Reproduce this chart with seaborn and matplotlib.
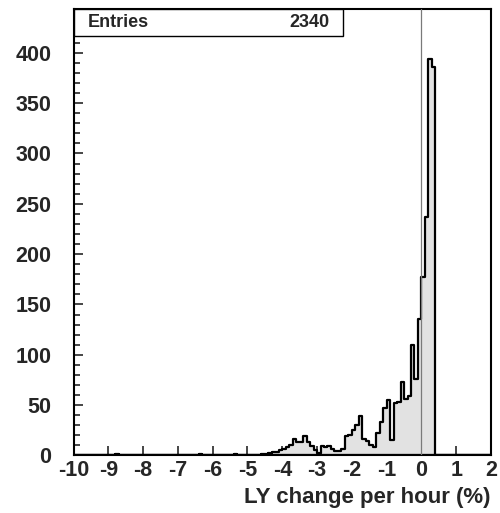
import numpy as np
import pandas as pd
import matplotlib
matplotlib.use("Agg")
import matplotlib.pyplot as plt
from matplotlib.patches import Rectangle
from matplotlib.ticker import MultipleLocator
import seaborn as sns

# Histogram binning: 120 bins of 0.1 % from -10 to 2
bin_lo, bin_hi, bin_w = -10.0, 2.0, 0.1

# Left edges of the populated bins and their counts
bin_left = [-8.8, -6.4, -5.4, -4.6, -4.5, -4.4, -4.3, -4.2,
            -4.1, -4.0, -3.9, -3.8, -3.7, -3.6, -3.5, -3.4, -3.3, -3.2, -3.1,
            -3.0, -2.9, -2.8, -2.7, -2.6, -2.5, -2.4, -2.3,
            -2.2, -2.1, -2.0, -1.9, -1.8, -1.7, -1.6, -1.5, -1.4, -1.3, -1.2, -1.1,
            -1.0, -0.9, -0.8, -0.7, -0.6, -0.5, -0.4, -0.3, -0.2, -0.1,
            0.0, 0.1, 0.2, 0.3]
counts = [1, 1, 1, 1, 1, 2, 3, 3,
          5, 6, 8, 10, 16, 13, 13, 19, 13, 9, 5,
          2, 9, 8, 9, 6, 4, 4, 6,
          19, 20, 25, 30, 39, 16, 14, 10, 8, 22, 33, 47,
          55, 15, 52, 53, 73, 56, 59, 110, 76, 136,
          177, 237, 394, 386]

entries = 2340
x_ticks = list(range(-10, 3))
y_ticks = [0, 50, 100, 150, 200, 250, 300, 350, 400]
x_title = "LY change per hour (%)"

df = pd.DataFrame({"ly": np.array(bin_left) + bin_w / 2, "n": counts})

sns.set_style("ticks")
plt.rcParams["font.family"] = ["Liberation Sans", "DejaVu Sans"]
plt.rcParams["axes.unicode_minus"] = False

fig = plt.figure(figsize=(5.0, 5.13), dpi=100)
ax = fig.add_axes([0.147, 0.1121, 0.835, 0.8694])

sns.histplot(data=df, x="ly", weights="n", binwidth=bin_w,
             binrange=(bin_lo, bin_hi), element="step",
             fill=True, facecolor="#e2e2e2", edgecolor="black",
             linewidth=1.6, alpha=1.0, ax=ax)

ax.axvline(0, color="#7a7a7a", linewidth=0.9, zorder=5)

ax.set_xlim(bin_lo, bin_hi)
ax.set_ylim(0, 443)
ax.set_xticks(x_ticks)
ax.set_xticklabels([str(t) for t in x_ticks])
ax.set_yticks(y_ticks)
ax.yaxis.set_minor_locator(MultipleLocator(10))
ax.set_xlabel("")
ax.set_ylabel("")

for s in ax.spines.values():
    s.set_visible(True)
    s.set_linewidth(1.5)
    s.set_color("black")

ax.tick_params(axis="both", which="major", direction="in", length=6.5,
               width=1.2, labelsize=15.5, top=False, right=False)
ax.tick_params(axis="y", which="minor", direction="in", length=4,
               width=1.2, right=False)
ax.tick_params(axis="y", which="major", pad=16)
ax.tick_params(axis="x", which="major", pad=3)
for lab in ax.get_xticklabels() + ax.get_yticklabels():
    lab.set_fontweight("bold")

# Statistics box
box_w, box_h = 0.645, 0.0595
ax.add_patch(Rectangle((0, 1 - box_h), box_w, box_h, transform=ax.transAxes,
                       facecolor="white", edgecolor="black", linewidth=1.0,
                       zorder=10, clip_on=False))
ax.text(0.034, 1 - box_h / 2, "Entries", transform=ax.transAxes,
        ha="left", va="center", fontsize=13, fontweight="bold", zorder=11)
ax.text(0.612, 1 - box_h / 2, f"{entries}", transform=ax.transAxes,
        ha="right", va="center", fontsize=13, fontweight="bold", zorder=11)

fig.text(0.98, 1 - 497 / 513, x_title, ha="right", va="center",
         fontsize=16, fontweight="bold")

fig.savefig("out.png", dpi=100, facecolor="white")
